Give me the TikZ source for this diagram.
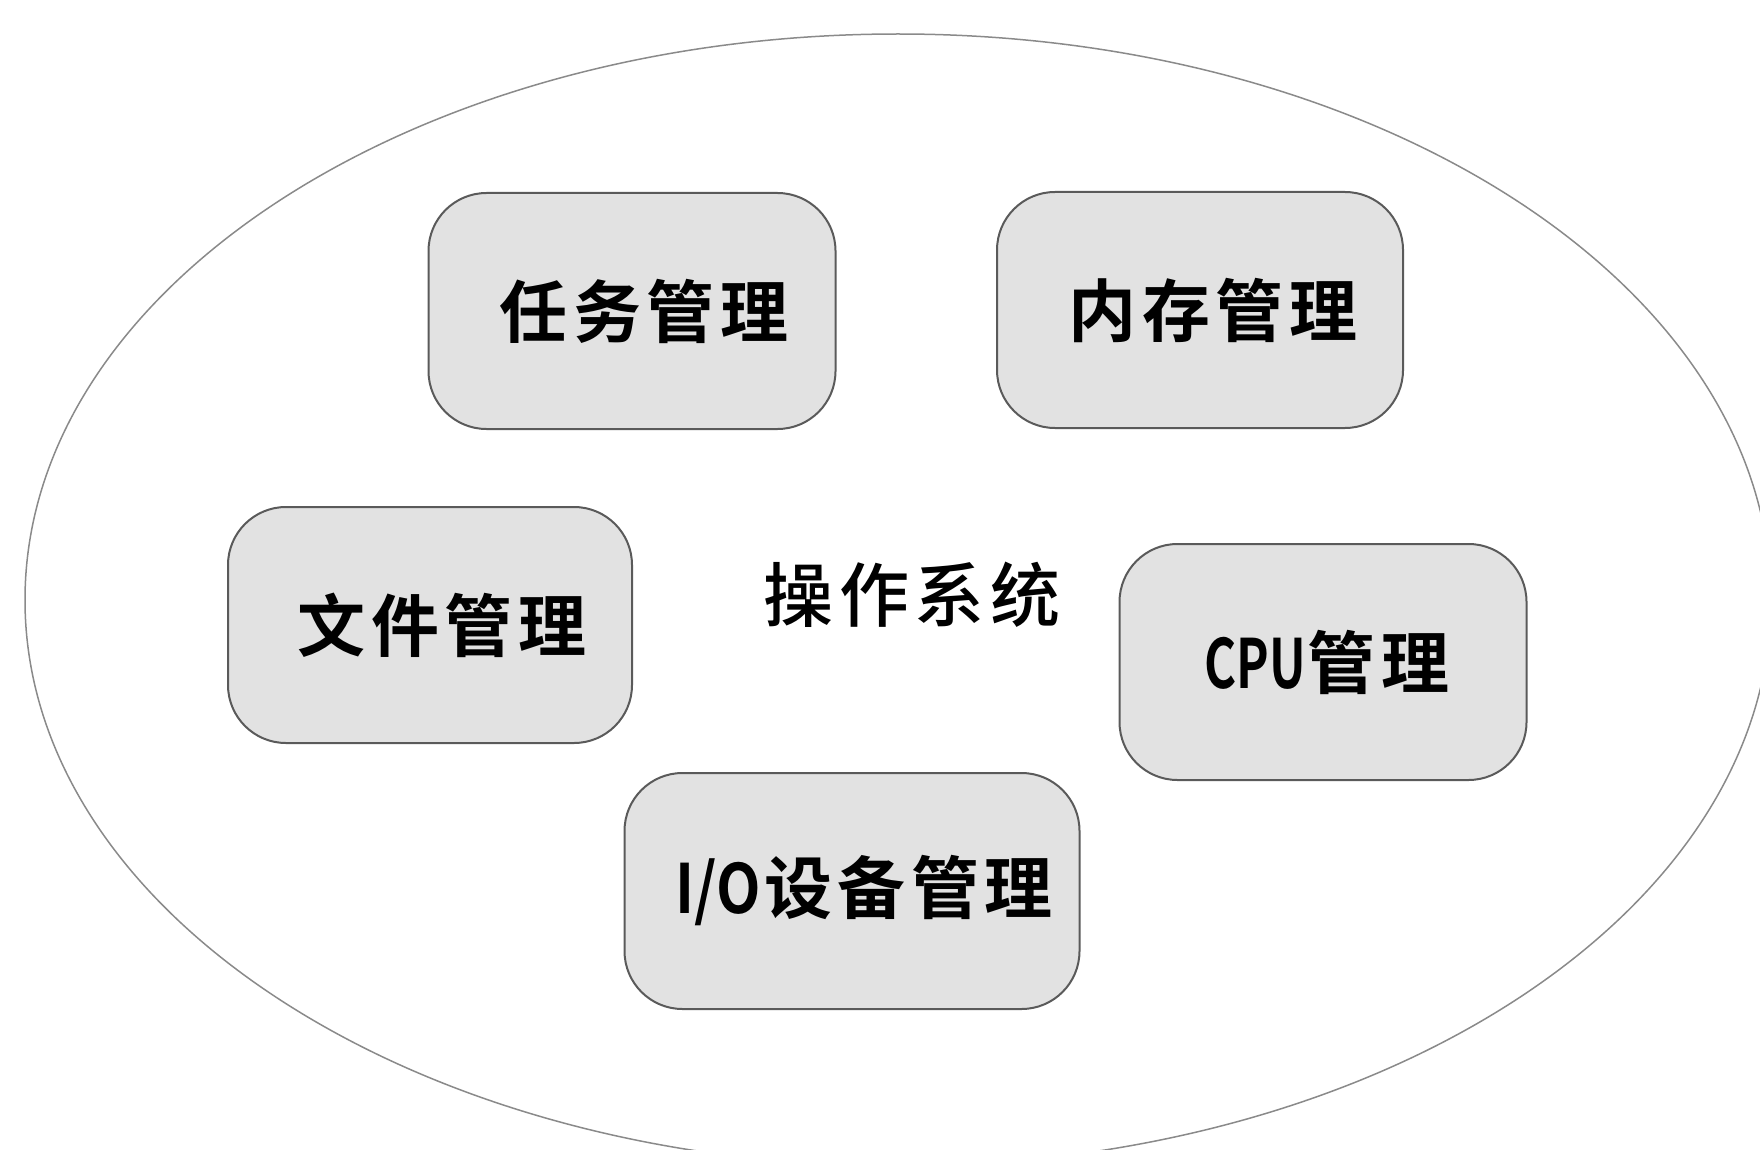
\documentclass[tikz,border=0pt]{standalone}
\usepackage{fontspec}
\usepackage{graphicx}
\usetikzlibrary{shapes.geometric}
\newfontfamily\cjk{Noto Sans CJK SC}[UprightFont=* Medium, BoldFont=* Bold, LetterSpace=8]
\newfontfamily\cjkn{Noto Sans CJK SC}[UprightFont=* Medium, BoldFont=* Bold]
\newcommand{\narrowlatin}[2]{{\cjkn\bfseries\scalebox{#1}[1]{#2}}}
\definecolor{boxfill}{HTML}{E2E2E2}
\definecolor{boxline}{HTML}{5A5A5A}
\definecolor{ovalline}{HTML}{8A8A8A}
\tikzset{
  modbox/.style={draw=boxline, line width=2pt, fill=boxfill, rounded corners=58pt,
    minimum height=236pt, inner sep=0pt, font=\cjk\bfseries\fontsize{68}{68}\selectfont},
  centertext/.style={font=\cjk\fontsize{70}{70}\selectfont, inner sep=0pt}
}
\begin{document}
\begin{tikzpicture}[x=1pt,y=-1pt]
\useasboundingbox (0,0) rectangle (1760,1150);
\clip (0,0) rectangle (1760,1150);
\node[draw=ovalline, line width=1.5pt, ellipse, minimum width=1746pt, minimum height=1132pt, inner sep=0pt] (os) at (898,600) {};
\node[centertext] (ostext) at (912,595) {操作系统};
\node[modbox, minimum width=407pt] (task) at (632,311) {\hspace{24pt}任务管理};
\node[modbox, minimum width=406pt] (mem) at (1200,310) {\hspace{26pt}内存管理};
\node[modbox, minimum width=404pt] (file) at (430,625) {\hspace{24pt}文件管理};
\node[modbox, minimum width=407pt] (cpu) at (1323,662) {\hspace{8pt}\narrowlatin{0.72}{CPU}\kern2pt 管理};
\node[modbox, minimum width=455pt] (io) at (852,891) {\hspace{24pt}\narrowlatin{0.85}{I/O}\kern4pt 设备管理};
\end{tikzpicture}
\end{document}
